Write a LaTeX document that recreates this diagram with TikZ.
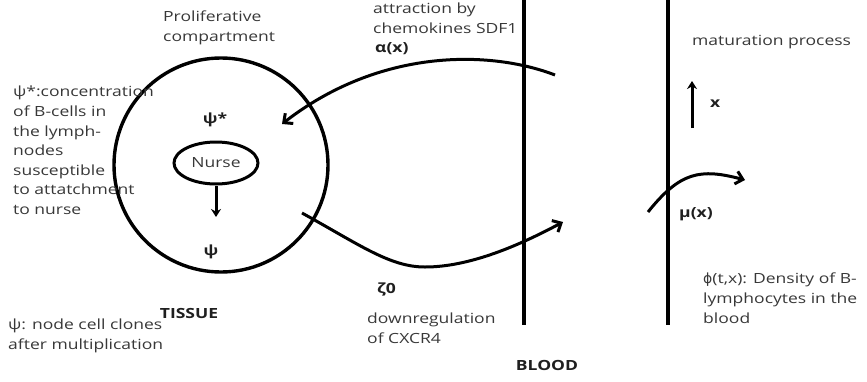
\documentclass[tikz,border=0pt]{standalone}
\usepackage{fontspec}
\setmainfont{Open Sans}[FakeStretch=1.25]
\newfontfamily\phifont{DejaVu Sans}
\usetikzlibrary{shapes.geometric,arrows.meta}
\begin{document}
\begin{tikzpicture}[x=1pt,y=-1pt,
  txt/.style={inner sep=0pt,align=left,text=black!78,font=\fontsize{14}{19.6}\selectfont},
  bld/.style={inner sep=0pt,text=black!88,font=\fontsize{14}{19.6}\selectfont\bfseries},
  wall/.style={line width=3.4pt},
  flow/.style={line width=3pt,-{Straight Barb[length=7pt,width=13pt]}},
  push/.style={line width=3pt,-{Stealth[length=8pt,width=10pt]}}]
 \useasboundingbox (0,0) rectangle (867,381);
 % tissue side
 \draw[line width=3.4pt] (221,165) circle (107);
 \node[draw,line width=3pt,ellipse,minimum width=84,minimum height=42,inner sep=0pt,
       text=black!78,font=\fontsize{14}{16}\selectfont] (nurse) at (216,163) {Nurse};
 \coordinate (clone) at (216,217);
 \draw[push] (nurse.south) -- (clone);
 \node[bld,anchor=base] (psistar) at (215,123) {ψ*};
 \node[bld,anchor=base] (psi) at (211,255) {ψ};
 \node[txt,anchor=north west] (prolif) at (163,11) {Proliferative\\compartment};
 \node[txt,anchor=north west] (psidef) at (13,86) {ψ*:concentration\\of B-cells in\\the lymph-\\nodes\\susceptible\\to attatchment\\to nurse};
 \node[bld,anchor=base] (tissue) at (189,318) {TISSUE};
 \node[txt,anchor=north west] (clonedef) at (8,319) {ψ: node cell clones\\after multiplication};
 % blood walls
 \coordinate (w1top) at (524,0);
 \coordinate (w1bot) at (524,325);
 \coordinate (w2top) at (668,0);
 \coordinate (w2bot) at (668,325);
 \draw[wall] (w1top) -- (w1bot);
 \draw[wall] (w2top) -- (w2bot);
 \node[bld,anchor=base] (blood) at (547,370) {BLOOD};
 % attraction into the tissue
 \coordinate (attr) at (555,75);
 \coordinate (attrend) at (282,124);
 \draw[flow] (attr) .. controls (490,50) and (380,48) .. (attrend);
 \node[txt,anchor=north west] (sdf) at (373,3) {attraction by\\chemokines SDF1};
 \node[bld,anchor=base west] (alpha) at (375,52) {α(x)};
 % release into the blood
 \coordinate (rel) at (302,213);
 \coordinate (relmid) at (425,267);
 \coordinate (relend) at (563,222);
 \draw[flow] (rel) .. controls (360,245) and (390,267) .. (relmid)
   .. controls (470,267) and (520,245) .. (relend);
 \node[bld,anchor=base west] (zeta) at (377,293) {ζ0};
 \node[txt,anchor=north west] (cxcr) at (367,313) {downregulation\\of CXCR4};
 % maturation in the blood
 \node[txt,anchor=base west] (mat) at (692,45) {maturation process};
 \coordinate (xlow) at (692,128);
 \coordinate (xhigh) at (692,81);
 \draw[push] (xlow) -- (xhigh);
 \node[bld,anchor=base west] (xlab) at (710,107) {x};
 \coordinate (mu) at (648,212);
 \coordinate (muend) at (745,180);
 \draw[flow] (mu) .. controls (680,172) and (700,168) .. (muend);
 \node[bld,anchor=base west] (mulab) at (679,217) {μ(x)};
 \node[txt,anchor=north west] (phidef) at (703,273) {{\phifont ϕ}(t,x): Density of B-\\lymphocytes in the\\blood};
\end{tikzpicture}
\end{document}
